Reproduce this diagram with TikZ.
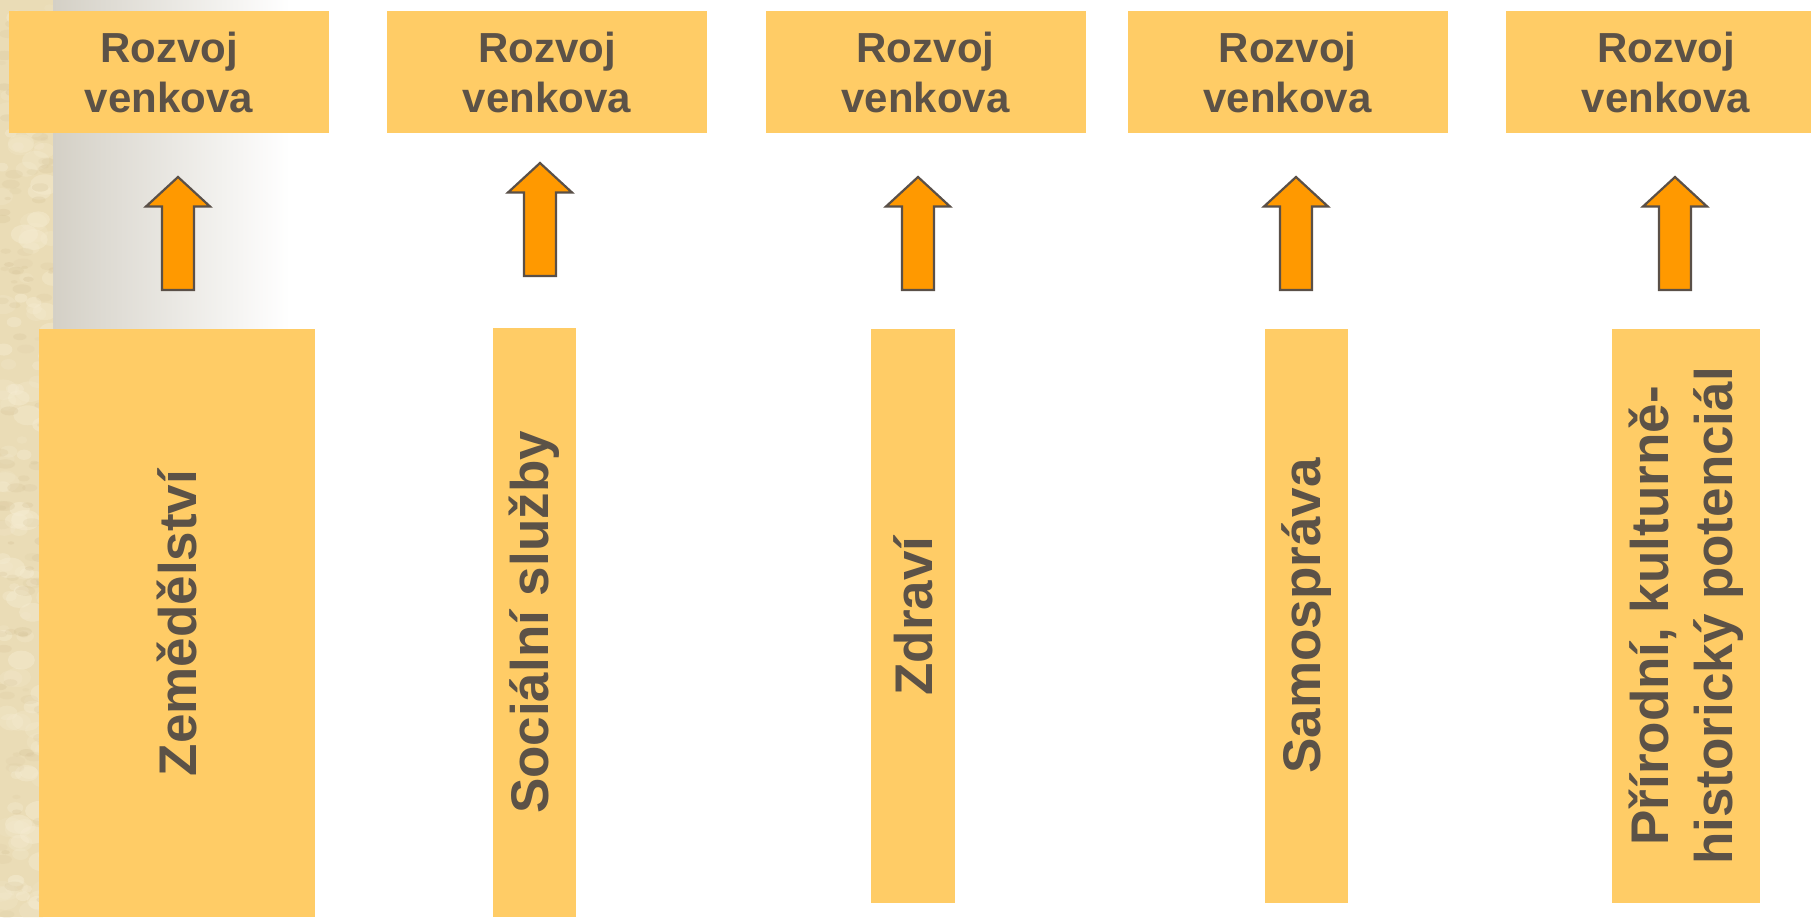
\documentclass[tikz,border=0pt]{standalone}
\usepackage{fontspec}
\setmainfont{Liberation Sans}
\definecolor{boxfill}{HTML}{FFCC66}
\definecolor{txt}{HTML}{5C5247}
\definecolor{arrfill}{HTML}{FF9900}
\definecolor{arrline}{HTML}{5A5048}
\definecolor{paper}{HTML}{EADCB6}
\definecolor{paperlight}{HTML}{F6EDD3}
\definecolor{paperdark}{HTML}{D8C69C}
\definecolor{gradgrey}{HTML}{D4D0C6}
\tikzset{
  topbox/.style={fill=boxfill, draw=none, inner sep=0pt, minimum width=160pt, minimum height=61pt,
    align=center, text=txt, font=\fontsize{21pt}{25pt}\selectfont\bfseries},
  lowbox/.style={fill=boxfill, draw=none, inner sep=0pt},
  vlabel/.style={rotate=90, align=center, text=txt, inner sep=0pt,
    font=\fontsize{26.5pt}{32pt}\selectfont\bfseries},
  uparr/.pic={
    \draw[fill=arrfill, draw=arrline, line width=1.1pt, line join=miter]
      (0,0) -- (32,29.5) -- (16,29.5) -- (16,113) -- (-16,113) -- (-16,29.5) -- (-32,29.5) -- cycle;
  }
}
\begin{document}
\begin{tikzpicture}[x=0.5pt,y=-0.5pt]
\useasboundingbox (0,0) rectangle (1811,917);
\clip (0,0) rectangle (1811,917);
\fill[white] (0,0) rectangle (1811,917);
% background gradient and textured strip
\shade[left color=gradgrey, right color=white] (53,0) rectangle (290,329);
\fill[paper] (0,0) rectangle (53,917);
\begin{scope}
  \clip (0,0) rectangle (53,917);
  \pgfmathsetseed{12}
  \foreach \i in {1,...,140}{
    \pgfmathsetmacro{\xx}{rnd*53}
    \pgfmathsetmacro{\yy}{rnd*917}
    \pgfmathsetmacro{\rr}{5+rnd*10}
    \pgfmathsetmacro{\op}{0.15+0.3*rnd}
    \fill[paperlight, opacity=\op] (\xx,\yy) ellipse ({\rr} and {0.7*\rr});
  }
  \foreach \i in {1,...,120}{
    \pgfmathsetmacro{\xx}{rnd*53}
    \pgfmathsetmacro{\yy}{rnd*917}
    \pgfmathsetmacro{\rr}{3+rnd*7}
    \pgfmathsetmacro{\op}{0.12+0.25*rnd}
    \fill[paperdark, opacity=\op] (\xx,\yy) ellipse ({\rr} and {0.5*\rr});
  }
\end{scope}

% top boxes
\node[topbox] (t1) at (169,72)  {Rozvoj\\venkova};
\node[topbox] (t2) at (547,72)  {Rozvoj\\venkova};
\node[topbox] (t3) at (925.5,72) {Rozvoj\\venkova};
\node[topbox] (t4) at (1287.5,72) {Rozvoj\\venkova};
\node[topbox] (t5) at (1666,72) {Rozvoj\\venkova};

% arrows
\pic (a1) at (178,177) {uparr};
\pic (a2) at (540,163) {uparr};
\pic (a3) at (918,177) {uparr};
\pic (a4) at (1296,177) {uparr};
\pic (a5) at (1675,177) {uparr};

% lower boxes
\node[lowbox, minimum width=138pt, minimum height=294pt] (b1) at (177,623) {};
\node[lowbox, minimum width=41.5pt, minimum height=294.5pt] (b2) at (534.5,622.5) {};
\node[lowbox, minimum width=42pt, minimum height=287pt] (b3) at (913,616) {};
\node[lowbox, minimum width=41.5pt, minimum height=287pt] (b4) at (1306.5,616) {};
\node[lowbox, minimum width=74pt, minimum height=287pt] (b5) at (1686,616) {};

\node[vlabel] (l1) at (b1.center) {Zemědělství};
\node[vlabel] (l2) at (b2.center) {Sociální služby};
\node[vlabel] (l3) at (b3.center) {Zdraví};
\node[vlabel] (l4) at (b4.center) {Samospráva};
\node[vlabel] (l5) at (b5.center) {Přírodní, kulturně-\\historický potenciál};
\end{tikzpicture}
\end{document}
